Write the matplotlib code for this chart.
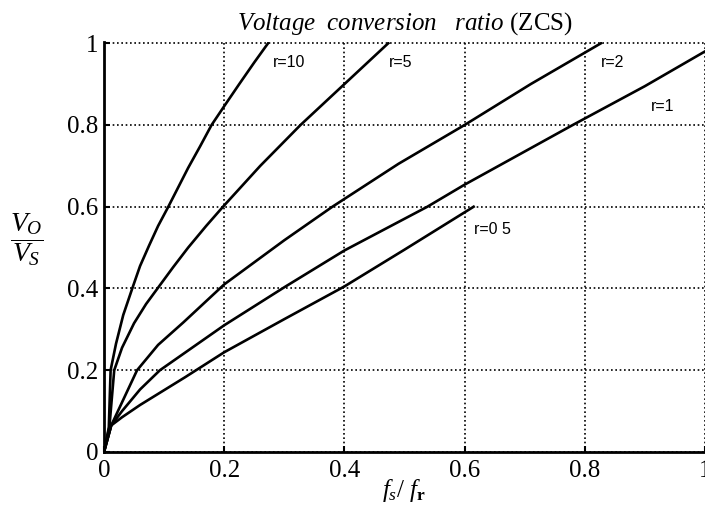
import numpy as np
import matplotlib
matplotlib.use("Agg")
from matplotlib import pyplot as plt

# values (fs/fr, Vo/Vs)
r10_x = [0, 0.008, 0.011, 0.02, 0.032, 0.047, 0.06, 0.075, 0.09, 0.107, 0.14, 0.16, 0.179, 0.2, 0.225, 0.25, 0.273]
r10_y = [0, 0.06, 0.2, 0.265, 0.335, 0.4, 0.455, 0.505, 0.553, 0.6, 0.695, 0.748, 0.8, 0.846, 0.9, 0.953, 1.0]

r5_x = [0, 0.009, 0.017, 0.03, 0.05, 0.07, 0.089, 0.115, 0.14, 0.17, 0.198, 0.26, 0.327, 0.4, 0.473]
r5_y = [0, 0.062, 0.2, 0.255, 0.315, 0.362, 0.4, 0.452, 0.5, 0.553, 0.6, 0.7, 0.8, 0.9, 1.0]

r2_x = [0, 0.012, 0.055, 0.09, 0.132, 0.2, 0.3, 0.38, 0.49, 0.6, 0.71, 0.827]
r2_y = [0, 0.065, 0.2, 0.262, 0.317, 0.41, 0.518, 0.6, 0.705, 0.8, 0.9, 1.0]

r1_x = [0, 0.012, 0.03, 0.06, 0.093, 0.2, 0.3, 0.4, 0.538, 0.6, 0.78, 0.9, 1.0]
r1_y = [0, 0.065, 0.1, 0.153, 0.2, 0.31, 0.403, 0.493, 0.6, 0.654, 0.8, 0.895, 0.98]

r05_x = [0, 0.012, 0.03, 0.06, 0.135, 0.2, 0.3, 0.4, 0.5, 0.615]
r05_y = [0, 0.065, 0.085, 0.115, 0.183, 0.244, 0.325, 0.405, 0.495, 0.6]

series = [(r10_x, r10_y), (r5_x, r5_y), (r2_x, r2_y), (r1_x, r1_y), (r05_x, r05_y)]

curve_labels = ["r=10", "r=5", "r=2", "r=1", "r=0 5"]
label_x = [0.281, 0.474, 0.827, 0.91, 0.616]
label_y = [0.954, 0.954, 0.954, 0.844, 0.544]

xticks = [0, 0.2, 0.4, 0.6, 0.8, 1]
yticks = [0, 0.2, 0.4, 0.6, 0.8, 1]
tick_labels = ['0', '0.2', '0.4', '0.6', '0.8', '1']

plt.rcParams['mathtext.fontset'] = 'custom'
plt.rcParams['mathtext.rm'] = 'Liberation Serif'
plt.rcParams['mathtext.it'] = 'Liberation Serif:italic'
plt.rcParams['mathtext.bf'] = 'Liberation Serif:bold'

fig = plt.figure(figsize=(7.05, 5.05), dpi=100)
ax = fig.add_axes([104/705, 53/505, 601/705, 410/505])

for xs, ys in series:
    ax.plot(xs, ys, color='black', lw=1.9)

for txt, lx, ly in zip(curve_labels, label_x, label_y):
    ax.text(lx, ly, txt, fontsize=11.5, family='Liberation Sans', va='center', ha='left')

ax.set_xlim(0, 1)
ax.set_ylim(0, 1.003)
ax.set_xticks(xticks)
ax.set_yticks(yticks)
ax.set_xticklabels(tick_labels)
ax.set_yticklabels(tick_labels)
for lab in ax.get_xticklabels() + ax.get_yticklabels():
    lab.set_family('Liberation Serif')
    lab.set_fontsize(18)
ax.tick_params(axis='x', direction='in', length=4, width=1.5, pad=6)
ax.tick_params(axis='y', direction='in', length=4, width=1.5, pad=4)

ax.grid(True, color='black', linestyle=(0, (1, 1.6)), lw=1.2)
ax.set_axisbelow(True)
for side in ['top', 'right']:
    ax.spines[side].set_visible(False)
for side in ['left', 'bottom']:
    ax.spines[side].set_linewidth(2)

fig.text(405/705, 1 - 24/505, r'$\mathit{Voltage\ \ conversion\ \ \ ratio}$ (ZCS)',
         fontsize=18, family='Liberation Serif', ha='center', va='center')
fig.text(27/705, 1 - 240/505, r'$\dfrac{V_O}{V_S}$', fontsize=20,
         ha='center', va='center')
fig.text(404/705, 1/505, r'$f_s/\ f_\mathbf{r}$', fontsize=18,
         ha='center', va='bottom')

fig.savefig('out.png', dpi=100)
